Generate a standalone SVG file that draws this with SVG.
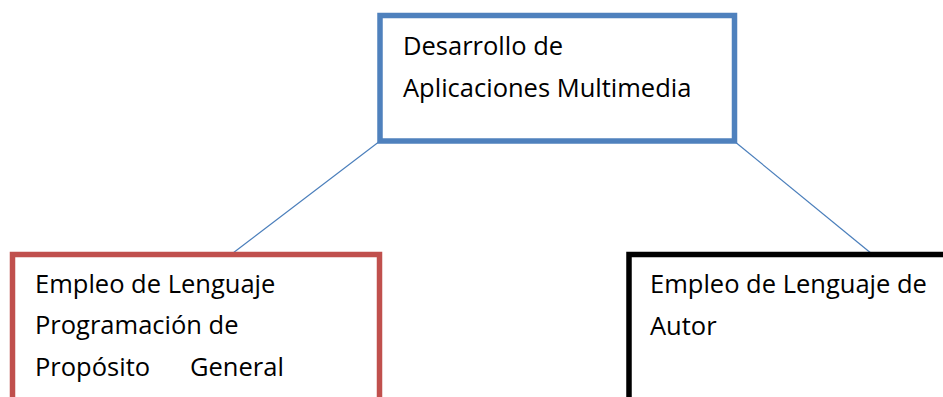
<svg xmlns="http://www.w3.org/2000/svg" width="943" height="397" viewBox="0 0 943 397">
<style>
.t{font-family:"Open Sans","Noto Sans","Liberation Sans",sans-serif;font-size:25.5px;fill:#000}
.box{fill:#fff;stroke-width:5.5}
.conn{stroke:#4A7EBB;stroke-width:1.2;fill:none}
</style>
<rect width="943" height="397" fill="#fff"/>
<g id="connectors">
<line class="conn" x1="380" y1="141" x2="233" y2="253"/>
<line class="conn" x1="734" y1="141" x2="872" y2="254"/>
</g>
<g id="node-top">
<rect class="box" x="380" y="15.5" width="354.5" height="125.5" stroke="#4F81BD"/>
<text class="t" x="403" y="55">Desarrollo de</text>
<text class="t" x="403" y="97">Aplicaciones Multimedia</text>
</g>
<g id="node-left">
<rect class="box" x="12.5" y="254.5" width="367" height="160" stroke="#C0504D"/>
<text class="t" x="35" y="293">Empleo de Lenguaje</text>
<text class="t" x="35" y="334">Programación de</text>
<text class="t" x="35" y="376">Propósito</text>
<text class="t" x="190" y="376">General</text>
</g>
<g id="node-right">
<rect class="box" x="629" y="254.5" width="340" height="160" stroke="#000"/>
<text class="t" x="650" y="293">Empleo de Lenguaje de</text>
<text class="t" x="650" y="335">Autor</text>
</g>
</svg>
